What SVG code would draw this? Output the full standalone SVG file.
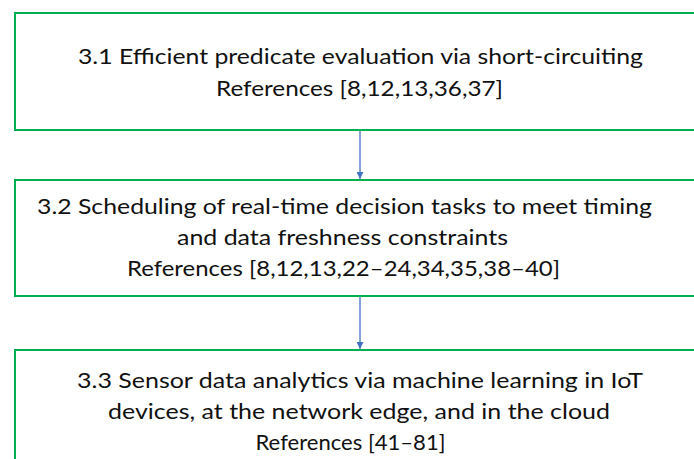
<svg xmlns="http://www.w3.org/2000/svg" width="694" height="459" viewBox="0 0 694 459">
  <style>
    .box { fill: #ffffff; stroke: #00B050; stroke-width: 2; }
    .lbl { font-family: Lato, "Open Sans", "Liberation Sans", sans-serif; font-size: 22px; fill: #111111; text-anchor: middle; }
    .conn { stroke: #4472C4; stroke-width: 1.3; fill: none; }
  </style>
  <defs>
    <marker id="arr" viewBox="0 0 10 10" refX="10" refY="5" markerWidth="7" markerHeight="7" markerUnits="userSpaceOnUse" orient="auto">
      <path d="M0,0 L10,5 L0,10 Z" fill="#4472C4"/>
    </marker>
  </defs>
  <rect width="694" height="459" fill="#ffffff"/>
  <g id="node1">
    <rect class="box" x="15" y="13" width="700" height="117"/>
    <text class="lbl" x="360.5" y="64" textLength="565" lengthAdjust="spacingAndGlyphs">3.1 Efficient predicate evaluation via short-circuiting</text>
    <text class="lbl" x="359.5" y="96" textLength="287" lengthAdjust="spacingAndGlyphs">References [8,12,13,36,37]</text>
  </g>
  <g id="node2">
    <rect class="box" x="15" y="180" width="700" height="116"/>
    <text class="lbl" x="344.5" y="214" textLength="615" lengthAdjust="spacingAndGlyphs">3.2 Scheduling of real-time decision tasks to meet timing</text>
    <text class="lbl" x="342.5" y="245" textLength="331" lengthAdjust="spacingAndGlyphs">and data freshness constraints</text>
    <text class="lbl" x="343.5" y="276" textLength="433" lengthAdjust="spacingAndGlyphs">References [8,12,13,22–24,34,35,38–40]</text>
  </g>
  <g id="node3">
    <rect class="box" x="15" y="350" width="700" height="130"/>
    <text class="lbl" x="360" y="388" textLength="566" lengthAdjust="spacingAndGlyphs">3.3 Sensor data analytics via machine learning in IoT</text>
    <text class="lbl" x="359" y="419" textLength="502" lengthAdjust="spacingAndGlyphs">devices, at the network edge, and in the cloud</text>
    <text class="lbl" x="350.5" y="450" textLength="190" lengthAdjust="spacingAndGlyphs">References [41–81]</text>
  </g>
  <g id="connectors">
    <line class="conn" x1="360" y1="131" x2="360" y2="179" marker-end="url(#arr)"/>
    <line class="conn" x1="360" y1="297" x2="360" y2="349" marker-end="url(#arr)"/>
  </g>
</svg>
